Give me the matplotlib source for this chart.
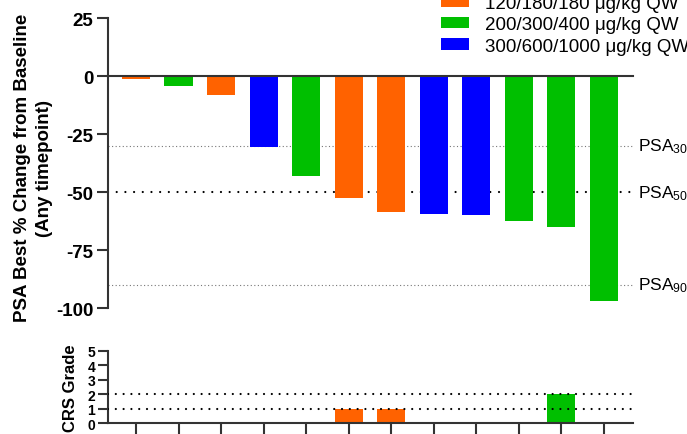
import matplotlib
matplotlib.use("Agg")
import matplotlib.pyplot as plt
from matplotlib.patches import Patch
from matplotlib.transforms import blended_transform_factory

plt.rcParams['font.family'] = ['Liberation Sans', 'DejaVu Sans']
plt.rcParams['mathtext.fontset'] = 'custom'
plt.rcParams['mathtext.rm'] = 'Liberation Sans'
plt.rcParams['mathtext.it'] = 'Liberation Sans'
plt.rcParams['axes.unicode_minus'] = False

# ---- data ----
dose_groups = ["120/180/180 μg/kg QW", "200/300/400 μg/kg QW", "300/600/1000 μg/kg QW"]
group_colors = ["#FF6200", "#00BF00", "#0000FF"]

# one entry per patient, sorted by best PSA response
patient_group = [0, 1, 0, 2, 1, 0, 0, 2, 2, 1, 1, 1]
psa_change = [-1.0, -4.1, -8.2, -30.5, -43.1, -52.3, -58.5, -59.3, -59.8, -62.2, -64.8, -97.0]
crs_grade = [0, 0, 0, 0, 0, 1, 1, 0, 0, 0, 2, 0]

psa_thresholds = [30, 50, 90]
crs_lines = [1, 2]

# ---- figure ----
W, H = 687, 435
fig = plt.figure(figsize=(W / 100, H / 100), dpi=100)

left = 107.5 / W
right = 633 / W
ax = fig.add_axes([left, 1 - 309.3 / H, right - left, (309.3 - 19.3) / H])
ax_crs = fig.add_axes([left, 1 - 424.3 / H, right - left, (424.3 - 351.7) / H])

x = list(range(len(psa_change)))
colors = [group_colors[g] for g in patient_group]
bar_w = 0.66
xlim = (-0.67, 11.69)

# PSA waterfall
ax.bar(x, psa_change, width=bar_w, color=colors, zorder=3)
ax.set_xlim(*xlim)
ax.set_ylim(-100, 25)
ax.set_yticks([25, 0, -25, -50, -75, -100])
ax.set_yticklabels(["25", "0", "-25", "-50", "-75", "-100"], fontweight='bold', fontsize=13.5)
ax.tick_params(axis='y', length=8, width=1.5, color='#333333', pad=2)
ax.tick_params(axis='x', bottom=False, labelbottom=False)
for s in ['top', 'right']:
    ax.spines[s].set_visible(False)
ax.spines['left'].set_linewidth(1.5)
ax.spines['left'].set_color('#333333')
ax.spines['bottom'].set_position(('data', 0))
ax.spines['bottom'].set_linewidth(1.5)
ax.spines['bottom'].set_color('#333333')
ax.spines['bottom'].set_zorder(4)

ax.axhline(-30, color='#777777', lw=0.8, linestyle=(0, (1, 2.2)), zorder=1)
ax.axhline(-50, color='black', lw=1.6, linestyle=(0, (0.01, 3.9)),
           dash_capstyle='round', zorder=1)
ax.axhline(-90, color='#777777', lw=0.8, linestyle=(0, (1, 2.2)), zorder=1)

trans = blended_transform_factory(ax.transAxes, ax.transData)
for t in psa_thresholds:
    ax.text(1.0095, -t, "PSA$_{%d}$" % t, transform=trans, fontsize=12.5,
            va='center', ha='left', clip_on=False)

ax.set_ylabel("PSA Best % Change from Baseline\n(Any timepoint)",
              fontweight='bold', fontsize=13.5, linespacing=1.37)
ax.yaxis.set_label_coords(-0.1037, 0.487)

# CRS grade panel
ax_crs.bar(x, crs_grade, width=bar_w, color=colors, zorder=2)
ax_crs.set_xlim(*xlim)
ax_crs.set_ylim(0, 5)
ax_crs.set_yticks(range(6))
ax_crs.set_yticklabels([str(v) for v in range(6)], fontweight='bold', fontsize=10)
ax_crs.set_xticks(x)
ax_crs.set_xticklabels([])
ax_crs.tick_params(axis='y', length=7, width=1.5, color='#333333', pad=2)
ax_crs.tick_params(axis='x', direction='out', length=14, width=1.5, color='#333333')
for s in ['top', 'right']:
    ax_crs.spines[s].set_visible(False)
for s in ['left', 'bottom']:
    ax_crs.spines[s].set_linewidth(1.5)
    ax_crs.spines[s].set_color('#333333')
for g in crs_lines:
    ax_crs.axhline(g, color='black', lw=1.6, linestyle=(0, (0.01, 3.5)),
                   dash_capstyle='round', zorder=3)
ax_crs.set_ylabel("CRS Grade", fontweight='bold', fontsize=12)
ax_crs.yaxis.set_label_coords(-0.056, 0.5)

# legend
handles = [Patch(facecolor=c, edgecolor='none') for c in group_colors]
fig.legend(handles, dose_groups, loc='upper left', bbox_to_anchor=(441 / W, 1.009),
           frameon=False, fontsize=13.5, handlelength=1.5, handleheight=0.55,
           handletextpad=0.85, labelspacing=0.23, borderpad=0, borderaxespad=0)

fig.savefig("out.png", dpi=100)
